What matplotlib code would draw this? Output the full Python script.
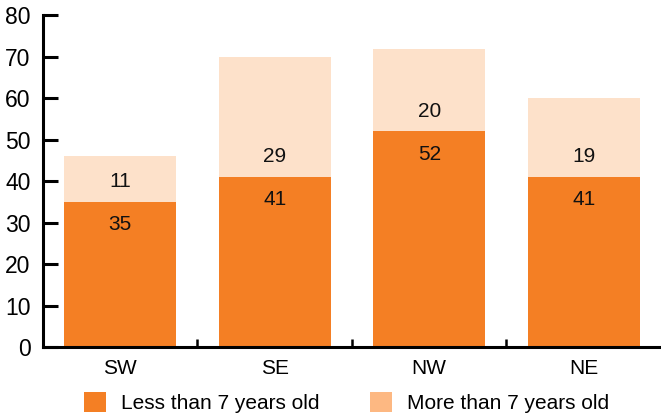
import matplotlib
matplotlib.use("Agg")
import matplotlib.pyplot as plt
from matplotlib.patches import Patch
import numpy as np

plt.rcParams['font.family'] = ['Liberation Sans', 'DejaVu Sans']

regions = ["SW", "SE", "NW", "NE"]
under_7 = [35, 41, 52, 41]
over_7 = [11, 29, 20, 19]
series_names = ["Less than 7 years old", "More than 7 years old"]

dark = "#F47F24"
light_bar = "#FDE1CA"
light_key = "#FDB882"

fig = plt.figure(figsize=(6.61, 4.18), dpi=100)
ax = fig.add_axes([0.065, 0.170, 0.935, 0.793])

x = np.arange(len(regions))
w = 0.725
ax.bar(x, under_7, width=w, color=dark, zorder=2)
ax.bar(x, over_7, width=w, bottom=under_7, color=light_bar, zorder=2)

for xi, a, b in zip(x, under_7, over_7):
    ax.annotate(str(a), (xi, a), xytext=(0, -16.5), textcoords="offset points",
                ha="center", va="center", fontsize=15, color="#111111")
    ax.annotate(str(b), (xi, a), xytext=(0, 14.5), textcoords="offset points",
                ha="center", va="center", fontsize=15, color="#111111")

ax.set_xlim(-0.5, len(regions) - 0.5)
ax.set_ylim(0, 80)
ax.set_yticks(range(0, 81, 10))
ax.set_xticks(x)
ax.set_xticklabels(regions)
ax.set_xticks(x[:-1] + 0.5, minor=True)

for s in ["top", "right"]:
    ax.spines[s].set_visible(False)
for s in ["left", "bottom"]:
    ax.spines[s].set_linewidth(2.2)
    ax.spines[s].set_color("black")

ax.tick_params(axis="y", direction="in", length=11, width=2.2, labelsize=16.5, pad=9)
ax.tick_params(axis="x", which="major", length=0, labelsize=15, pad=9)
ax.tick_params(axis="x", which="minor", direction="in", length=6, width=1.8)

handles = [Patch(facecolor=dark, edgecolor="none"), Patch(facecolor=light_key, edgecolor="none")]
fig.legend(handles, series_names, loc="center", bbox_to_anchor=(0.524, 0.036), ncol=2,
           frameon=False, fontsize=15, handlelength=1.1, handleheight=1.1,
           handletextpad=0.7, columnspacing=2.4)

fig.savefig("out.png", dpi=100)
